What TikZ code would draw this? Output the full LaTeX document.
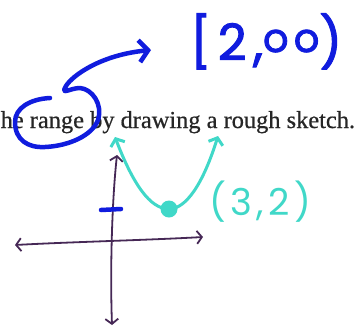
\documentclass[tikz,border=0pt]{standalone}
\usepackage{fontspec}
\setmainfont{Liberation Serif}
\newfontfamily\handfont{Poppins}
\usetikzlibrary{arrows.meta}
\definecolor{penblue}{RGB}{16,28,222}
\definecolor{penteal}{RGB}{64,216,200}
\definecolor{penpurple}{RGB}{70,40,86}
\definecolor{printgray}{RGB}{38,38,38}

\begin{document}
\begin{tikzpicture}[x=1pt,y=-1pt,
    blueink/.style={draw=penblue,line width=4.5pt,line cap=round,line join=round},
    tealink/.style={draw=penteal,line width=3pt,line cap=round,line join=round},
    axisink/.style={draw=penpurple,line width=1.8pt,line cap=round,line join=round}]
    \clip (0,0) rectangle (359,333);
    \fill[white] (0,0) rectangle (359,333);

    % printed line of the worksheet
    \node[anchor=base west,inner sep=0pt,text=printgray,
          font=\addfontfeature{FakeBold=0.6}\fontsize{24.4}{30}\selectfont] (line) at (0.5,128)
          {he range by drawing a rough sketch.};

    % answer written in blue
    \node[anchor=base west,inner sep=0pt,text=penblue,
          font=\handfont\addfontfeature{LetterSpace=13,FakeBold=2}\fontsize{50}{56}\selectfont] (answer) at (190,60)
          {[2,\raisebox{8pt}{\fontsize{40}{40}\selectfont oo})};
    \coordinate (looptop) at (50,98);
    \coordinate (looptip) at (151,50);
    \draw[blueink,-{Straight Barb[length=9pt,width=22pt]}] (looptop)
        .. controls (30,99) and (15,108) .. (15,122)
        .. controls (15,140) and (28,148) .. (45,147)
        .. controls (68,146) and (92,136) .. (98,120)
        .. controls (103,104) and (92,89) .. (80,88)
        .. controls (70,88) and (60,96) .. (66,86)
        .. controls (72,76) and (100,55) .. (looptip);

    % axes
    \coordinate (xl) at (15,245);
    \coordinate (xr) at (203,237);
    \coordinate (yt) at (117,155);
    \coordinate (yb) at (112,325);
    \draw[axisink,{Straight Barb[length=5pt,width=13pt]}-{Straight Barb[length=5pt,width=13pt]}]
        (xl) .. controls (70,242) and (150,240) .. (xr);
    \draw[axisink,{Straight Barb[length=5pt,width=13pt]}-{Straight Barb[length=5pt,width=13pt]}]
        (yt) .. controls (112,200) and (110,270) .. (yb);

    % tick on the y axis
    \coordinate (tl) at (101,210);
    \coordinate (tr) at (121,209);
    \draw[blueink] (tl) -- (tr);

    % parabola and its vertex
    \node[circle,fill=penteal,minimum size=17pt,inner sep=0pt] (vtx) at (169,209) {};
    \coordinate (pl) at (115,137);
    \coordinate (pr) at (218,136);
    \draw[tealink,{Straight Barb[length=6pt,width=15pt]}-{Straight Barb[length=6pt,width=15pt]}]
        (pl) .. controls (133,184) and (150,209) .. (vtx.center)
        .. controls (186,209) and (203,184) .. (pr);
    \node[anchor=west,inner sep=0pt,text=penteal,
          font=\handfont\addfontfeature{LetterSpace=12}\fontsize{37}{40}\selectfont] (vlabel) at (209,202) {(3,2)};
\end{tikzpicture}
\end{document}
